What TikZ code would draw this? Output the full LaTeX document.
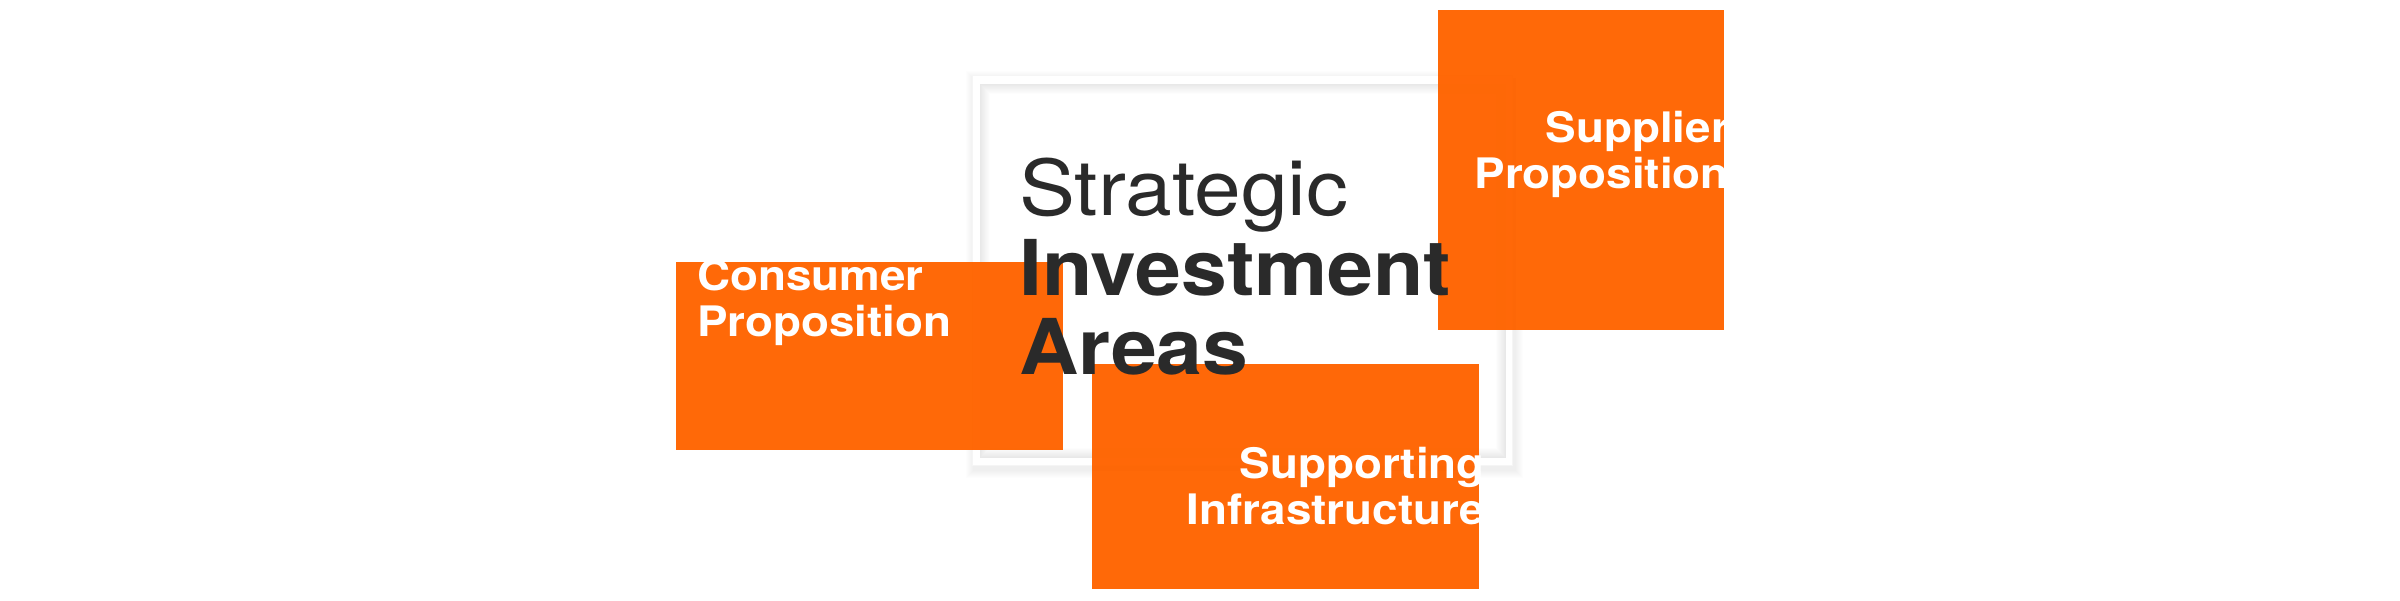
\documentclass[tikz,border=0pt]{standalone}
\usepackage{fontspec}
\setmainfont{TeX Gyre Heros}[FakeStretch=1.07]
\newfontfamily\titlelight{TeX Gyre Heros}[FakeStretch=1.09]
\newfontfamily\labelfont{TeX Gyre Heros}[FakeStretch=1.09]
\definecolor{areaorange}{RGB}{255,100,0}
\definecolor{titlegray}{RGB}{42,42,42}
\tikzset{
	area/.style={fill=areaorange, fill opacity=0.97},
	arealabel/.style={text=white, inner sep=0pt, font=\fontsize{42}{46}\labelfont\bfseries},
	titleline/.style={text=titlegray, inner sep=0pt, anchor=base west},
}

\begin{document}
\begin{tikzpicture}[x=1pt,y=-1pt]
	\useasboundingbox (0,0) rectangle (2400,600);
	% frame with soft shadow
	\foreach \s in {1,...,8}
		\fill[black, opacity=0.007] (972-\s+2,75-\s+4) rectangle (1513+\s+2,466+\s+4);
	\fill[white] (972,75) rectangle (1513,466);
	\draw[black!4, line width=1pt] (972.5,75.5) rectangle (1512.5,465.5);
	\foreach \s in {0,...,9}
		\draw[black, draw opacity={0.09-0.009*\s}, line width=1pt] (980.5+\s,84.5+\s) rectangle (1505.5-\s,457.5-\s);
	% the three areas
	\fill[area] (676,262) rectangle (1063,450);
	\fill[area] (1438,10) rectangle (1724,330);
	\fill[area] (1092,364) rectangle (1479,589);
	% title
	\node[titleline, font=\fontsize{77}{80}\titlelight] (title1) at (1019,215) {Strategic};
	\node[titleline, font=\fontsize{77}{80}\selectfont\bfseries] (title2) at (1019,295) {Investment};
	\node[titleline, font=\fontsize{77}{80}\selectfont\bfseries] (title3) at (1019,374) {Areas};
	% labels (base = last line)
	\node[arealabel, anchor=base west, align=left] (consumer) at (697,336) {Consumer\\Proposition};
	\node[arealabel, anchor=base east, align=right] (supplier) at (1729,188) {Supplier\\Proposition};
	\node[arealabel, anchor=base east, align=right] (supporting) at (1485,524) {Supporting\\Infrastructure};
\end{tikzpicture}
\end{document}
